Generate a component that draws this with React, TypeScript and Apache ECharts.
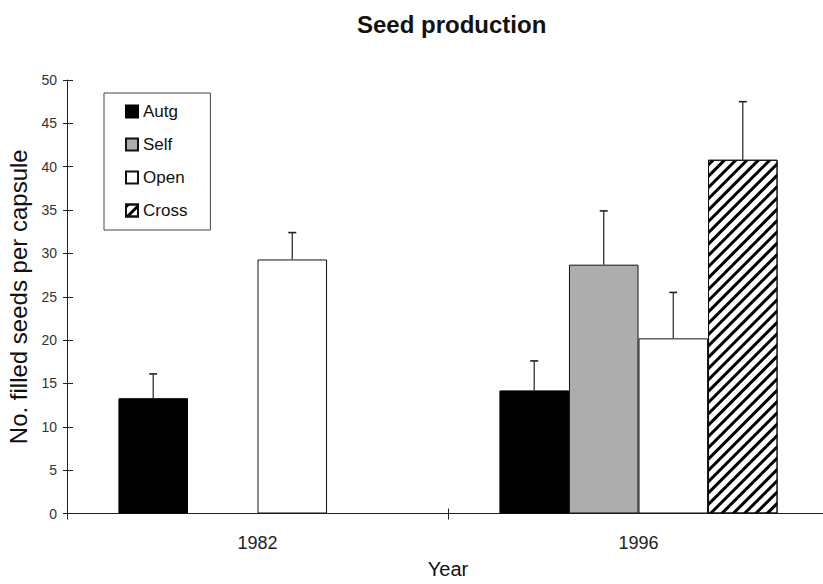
import React, { useEffect, useRef } from "react";
import * as echarts from "echarts";

const years = ["1982", "1996"];
const seriesNames = ["Autg", "Self", "Open", "Cross"];
const autgMeans = [13.3, 14.2];
const selfMeans = [null, 28.7];
const openMeans = [29.3, 20.2];
const crossMeans = [null, 40.8];
const autgErr = [2.8, 3.4];
const selfErr = [null, 6.2];
const openErr = [3.1, 5.3];
const crossErr = [null, 6.7];
const yTicks = { min: 0, max: 50, interval: 5 };

const FONT = "Liberation Sans, Arial, sans-serif";
const CAT_GAP = 0.27;

export default function App() {
  const ref = useRef<HTMLDivElement>(null);
  useEffect(() => {
    if (!ref.current) return;
    const chart = echarts.init(ref.current, null, { renderer: "svg", width: 823, height: 584 });
    const means = [autgMeans, selfMeans, openMeans, crossMeans];
    const errs = [autgErr, selfErr, openErr, crossErr];
    const errData: any[] = [];
    means.forEach((arr, s) => {
      arr.forEach((m, c) => {
        const e = errs[s][c];
        if (m != null && e != null) errData.push([c, m, m + e, s]);
      });
    });
    const styles = [
      { color: "#000", borderColor: "#000", borderWidth: 1 },
      { color: "#adadad", borderColor: "#111", borderWidth: 1 },
      { color: "#fff", borderColor: "#111", borderWidth: 1 },
      {
        color: "#fff",
        borderColor: "#111",
        borderWidth: 1,
        decal: {
          symbol: "rect",
          symbolSize: 1,
          color: "#000",
          dashArrayX: [1, 0],
          dashArrayY: [2.5, 4.5],
          rotation: -Math.PI / 4,
        },
      },
    ];
    const barSeries = seriesNames.map((name, i) => ({
      name,
      type: "bar",
      data: means[i].map((v) => (v == null ? "-" : v)),
      barGap: "0%",
      barCategoryGap: CAT_GAP * 100 + "%",
      itemStyle: styles[i],
      emphasis: { disabled: true },
      z: 2,
    }));
    chart.setOption({
      animation: false,
      textStyle: { fontFamily: FONT },
      title: {
        text: "Seed production",
        left: 357,
        top: 12,
        padding: 0,
        textStyle: { fontSize: 24, fontWeight: "bold", color: "#111", fontFamily: FONT },
      },
      legend: {
        orient: "vertical",
        left: 104,
        top: 93,
        padding: [10, 23, 11, 21],
        itemWidth: 12,
        itemHeight: 12,
        itemGap: 16,
        icon: "rect",
        borderColor: "#444",
        borderWidth: 1,
        data: seriesNames,
        selectedMode: false,
        textStyle: { fontSize: 17, lineHeight: 17, color: "#111", fontFamily: FONT },
      },
      grid: { left: 67, top: 80, width: 762, bottom: 70.5, containLabel: false, outerBoundsMode: "none" },
      xAxis: [
        {
          type: "category",
          data: years,
          name: "Year",
          nameLocation: "middle",
          nameGap: 45,
          nameTextStyle: { fontSize: 20, lineHeight: 20, color: "#111", fontFamily: FONT },
          axisLine: { lineStyle: { color: "#222", width: 1 } },
          axisTick: { show: true, length: 6, lineStyle: { color: "#222" } },
          axisLabel: { fontSize: 18, color: "#222", margin: 20, fontFamily: FONT },
        },
        {
          type: "category",
          data: years,
          position: "bottom",
          axisLine: { show: false },
          axisTick: { show: true, inside: true, length: 5, lineStyle: { color: "#222" } },
          axisLabel: { show: false },
        },
      ],
      yAxis: [
        {
          type: "value",
          min: yTicks.min,
          max: yTicks.max,
          interval: yTicks.interval,
          name: "No. filled seeds per capsule",
          nameLocation: "middle",
          nameGap: 32,
          nameTextStyle: { fontSize: 24, color: "#111", fontFamily: FONT },
          splitLine: { show: false },
          axisLine: { show: true, lineStyle: { color: "#222", width: 1 } },
          axisTick: { show: true, length: 4, lineStyle: { color: "#222" } },
          axisLabel: { fontSize: 14, color: "#333", margin: 10, fontFamily: FONT },
        },
        {
          type: "value",
          min: yTicks.min,
          max: yTicks.max,
          interval: yTicks.interval,
          position: "left",
          splitLine: { show: false },
          axisLine: { show: false },
          axisTick: { show: true, inside: true, length: 6, lineStyle: { color: "#222" } },
          axisLabel: { show: false },
        },
      ],
      series: [
        ...barSeries,
        {
          type: "custom",
          name: "err",
          data: errData,
          z: 5,
          silent: true,
          renderItem: (params: any, api: any) => {
            const c = api.value(0);
            const m = api.value(1);
            const t = api.value(2);
            const s = api.value(3);
            const catW = api.size([1, 0])[0];
            const bw = (catW * (1 - CAT_GAP)) / 4;
            const base = api.coord([c, m]);
            const top = api.coord([c, t]);
            const x = base[0] + (s - 1.5) * bw;
            return {
              type: "group",
              children: [
                {
                  type: "line",
                  shape: { x1: x, y1: base[1], x2: x, y2: top[1] },
                  style: { stroke: "#222", lineWidth: 1.2 },
                },
                {
                  type: "line",
                  shape: { x1: x - 4, y1: top[1], x2: x + 4, y2: top[1] },
                  style: { stroke: "#222", lineWidth: 1.6 },
                },
              ],
            };
          },
        },
      ],
    });
    return () => chart.dispose();
  }, []);
  return (
    <div
      ref={ref}
      style={{ position: "fixed", left: 0, top: 0, width: 823, height: 584, background: "#fff" }}
    />
  );
}
